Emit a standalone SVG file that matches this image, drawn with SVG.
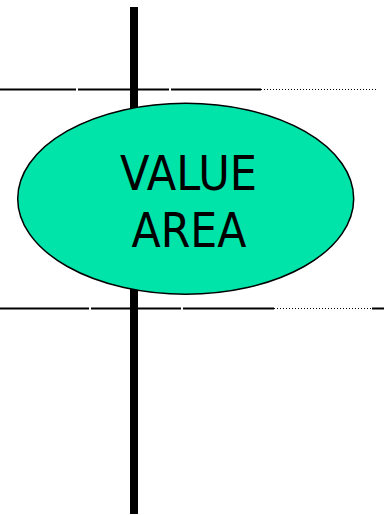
<svg xmlns="http://www.w3.org/2000/svg" width="384" height="515" viewBox="0 0 384 515">
<style>
.solid{stroke:#000;stroke-width:2;fill:none}
.dot{stroke:#000;stroke-width:1;stroke-dasharray:1 2;fill:none}
.lbl{font-family:"DejaVu Sans",Verdana,sans-serif;font-size:48px;fill:#000;text-anchor:middle}
</style>
<rect width="384" height="515" fill="#fff"/>
<g id="connectors">
<line class="solid" x1="0" y1="89.5" x2="76" y2="89.5"/>
<line class="solid" x1="78" y1="89.5" x2="169" y2="89.5"/>
<line class="solid" x1="171" y1="89.5" x2="261" y2="89.5"/>
<line class="dot" x1="261" y1="89.5" x2="378" y2="89.5"/>
<line class="solid" x1="0" y1="308.5" x2="89" y2="308.5"/>
<line class="solid" x1="91" y1="308.5" x2="181" y2="308.5"/>
<line class="solid" x1="183" y1="308.5" x2="274" y2="308.5"/>
<line class="dot" x1="274" y1="308.5" x2="372" y2="308.5"/>
<line class="solid" x1="372" y1="308.5" x2="384" y2="308.5"/>
<rect x="130" y="7" width="8" height="507" fill="#000"/>
</g>
<g id="value-area">
<ellipse cx="185.7" cy="198.7" rx="168" ry="95.5" fill="#00E3A9" stroke="#000" stroke-width="1.5"/>
<text class="lbl" x="188.5" y="190" textLength="137" lengthAdjust="spacingAndGlyphs">VALUE</text>
<text class="lbl" x="189" y="246.5" textLength="115" lengthAdjust="spacingAndGlyphs">AREA</text>
</g>
</svg>
